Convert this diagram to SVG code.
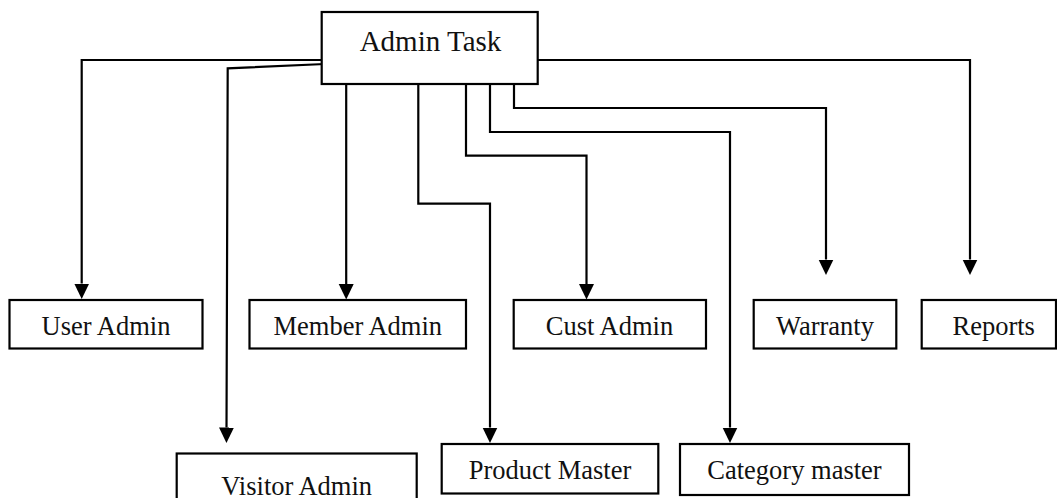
<svg xmlns="http://www.w3.org/2000/svg" width="1057" height="498" viewBox="0 0 1057 498">
<style>
.box{fill:#fff;stroke:#000;stroke-width:2.2}
.lbl{font-family:"Liberation Serif","Times New Roman",serif;font-size:26.5px;fill:#111;text-anchor:middle}
.ttl{font-size:29px}
.con{fill:none;stroke:#000;stroke-width:2.2;marker-end:url(#arr)}
</style>
<defs>
<marker id="arr" markerUnits="userSpaceOnUse" markerWidth="17" markerHeight="17" viewBox="0 -8.5 17 17" refX="0" refY="0" orient="auto">
<path d="M0,-7.5 L15.5,0 L0,7.5 Z" fill="#000"/>
</marker>
</defs>
<rect width="1057" height="498" fill="#fff"/>
<g id="connectors">
<polyline class="con" points="322,60 81.7,60 81.7,283.5"/>
<polyline class="con" points="325,64 227.7,68.3 226.5,427.5"/>
<polyline class="con" points="346.2,84 346.2,284"/>
<polyline class="con" points="418.3,84 418.3,203.7 490,203.7 490,427.5"/>
<polyline class="con" points="466,84 466,155.7 586.5,155.7 586.5,284"/>
<polyline class="con" points="490,84 490,132 730,132 730,427.5"/>
<polyline class="con" points="514,84 514,108 826,108 826,259.5"/>
<polyline class="con" points="537.7,60 970,60 970,259.5"/>
</g>
<g id="admin-task">
<rect class="box" x="321.7" y="12" width="216" height="72"/>
<text class="lbl ttl" x="430.5" y="51">Admin Task</text>
</g>
<g id="user-admin">
<rect class="box" x="9.5" y="300" width="193" height="48.5"/>
<text class="lbl" x="106" y="335">User Admin</text>
</g>
<g id="member-admin">
<rect class="box" x="249.5" y="300" width="216.5" height="48.5"/>
<text class="lbl" x="357.8" y="335">Member Admin</text>
</g>
<g id="cust-admin">
<rect class="box" x="513.7" y="300" width="192.3" height="48.5"/>
<text class="lbl" x="609.5" y="335">Cust Admin</text>
</g>
<g id="warranty">
<rect class="box" x="753.7" y="300" width="142.6" height="48.5"/>
<text class="lbl" x="825" y="334.5">Warranty</text>
</g>
<g id="reports">
<rect class="box" x="921.7" y="300" width="134.3" height="48.5"/>
<text class="lbl" x="993.7" y="334.5">Reports</text>
</g>
<g id="visitor-admin">
<rect class="box" x="176.7" y="453.5" width="240" height="60"/>
<text class="lbl" x="296.7" y="495">Visitor Admin</text>
</g>
<g id="product-master">
<rect class="box" x="441.7" y="444" width="216.6" height="49.5"/>
<text class="lbl" x="550" y="478.5">Product Master</text>
</g>
<g id="category-master">
<rect class="box" x="680" y="444" width="229" height="51"/>
<text class="lbl" x="794.5" y="479">Category master</text>
</g>
</svg>
